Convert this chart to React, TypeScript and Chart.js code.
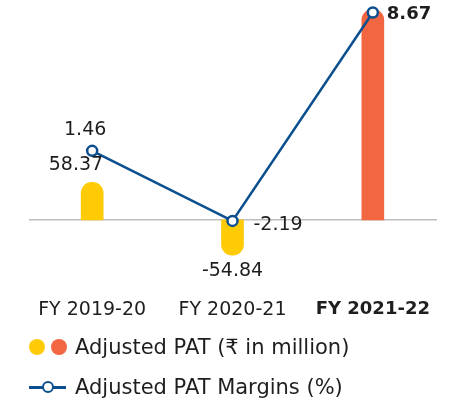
import React, { useEffect, useRef } from "react";
import { Chart, registerables } from "chart.js";

Chart.register(...registerables);

const categories = ["FY 2019-20", "FY 2020-21", "FY 2021-22"];
const patValues = [58.37, -54.84, 327];
const patLabels = ["58.37", "-54.84", ""];
const marginValues = [1.46, -2.19, 8.67];
const marginLabels = ["1.46", "-2.19", "8.67"];
const barColors = ["#FFCB05", "#FFCB05", "#F26742"];
const lineColor = "#0B4F8F";
const FONT = "'DejaVu Sans', 'Noto Sans', sans-serif";

const labelPlugin = {
  id: "customLabels",
  beforeDatasetsDraw(chart: any) {
    const { ctx, chartArea, scales } = chart;
    const y0 = scales.y.getPixelForValue(0);
    ctx.save();
    ctx.strokeStyle = "#BDBDBD";
    ctx.lineWidth = 1.5;
    ctx.beginPath();
    ctx.moveTo(chartArea.left + 7, y0);
    ctx.lineTo(chartArea.right - 6, y0);
    ctx.stroke();
    ctx.restore();
  },
  afterDatasetsDraw(chart: any) {
    const { ctx } = chart;
    const barMeta = chart.getDatasetMeta(0);
    const lineMeta = chart.getDatasetMeta(1);
    ctx.save();
    ctx.fillStyle = "#1E1E1E";
    ctx.textBaseline = "middle";
    barMeta.data.forEach((el: any, i: number) => {
      const txt = patLabels[i];
      if (!txt) return;
      ctx.font = `19px ${FONT}`;
      if (patValues[i] >= 0) {
        ctx.textAlign = "right";
        ctx.fillText(txt, el.x + 11, el.y - 17);
      } else {
        ctx.textAlign = "center";
        ctx.fillText(txt, el.x, el.y + 16);
      }
    });
    lineMeta.data.forEach((el: any, i: number) => {
      const txt = marginLabels[i];
      if (i === 0) {
        ctx.font = `19px ${FONT}`;
        ctx.textAlign = "center";
        ctx.fillText(txt, el.x - 7, el.y - 21);
      } else if (i === 1) {
        ctx.font = `19px ${FONT}`;
        ctx.textAlign = "left";
        ctx.fillText(txt, el.x + 21, el.y + 4);
      } else {
        ctx.font = `bold 18px ${FONT}`;
        ctx.textAlign = "left";
        ctx.fillText(txt, el.x + 14, el.y + 2);
      }
    });
    ctx.restore();
  },
};

export default function App() {
  const ref = useRef<HTMLCanvasElement | null>(null);
  useEffect(() => {
    if (!ref.current) return;
    const chart = new Chart(ref.current, {
      type: "bar",
      data: {
        labels: categories,
        datasets: [
          {
            type: "bar",
            data: patValues,
            backgroundColor: barColors,
            barThickness: 22,
            borderRadius: 11,
            borderSkipped: "start",
            yAxisID: "y",
            order: 2,
          },
          {
            type: "line",
            data: marginValues,
            borderColor: lineColor,
            borderWidth: 2.5,
            pointRadius: 5,
            pointBorderWidth: 2.5,
            pointBackgroundColor: "#FFFFFF",
            pointBorderColor: lineColor,
            tension: 0,
            clip: false,
            yAxisID: "y1",
            order: 1,
          } as any,
        ],
      },
      options: {
        animation: false,
        responsive: false,
        maintainAspectRatio: false,
        layout: { padding: { left: 22, right: 21, top: 4, bottom: 65 } },
        plugins: { legend: { display: false }, tooltip: { enabled: false } },
        scales: {
          x: {
            grid: { display: false, drawTicks: false },
            border: { display: false },
            ticks: {
              padding: 14,
              color: "#1E1E1E",
              font: (c: any) =>
                c.index === 2
                  ? { family: FONT, size: 18, weight: "bold" }
                  : { family: FONT, size: 19 },
            },
          },
          y: {
            display: false,
            min: -100,
            max: 330,
          },
          y1: {
            display: false,
            min: -5.49,
            max: 8.93,
          },
        },
      },
      plugins: [labelPlugin],
    });
    return () => chart.destroy();
  }, []);

  const textStyle: React.CSSProperties = {
    position: "absolute",
    left: 75,
    fontFamily: FONT,
    fontSize: 21,
    color: "#1E1E1E",
    lineHeight: "24px",
    whiteSpace: "nowrap",
  };
  const dot = (left: number, color: string): React.CSSProperties => ({
    position: "absolute",
    left,
    top: 339,
    width: 16,
    height: 16,
    borderRadius: 8,
    background: color,
  });

  return (
    <div style={{ position: "fixed", left: 0, top: 0, width: 464, height: 400, background: "#fff" }}>
      <canvas ref={ref} width={464} height={400} style={{ position: "absolute", left: 0, top: 0 }} />
      <span style={dot(29, "#FFCB05")} />
      <span style={dot(51, "#F26742")} />
      <div style={{ ...textStyle, top: 335 }}>Adjusted PAT (₹ in million)</div>
      <span
        style={{
          position: "absolute",
          left: 29,
          top: 386,
          width: 37,
          height: 2.5,
          background: lineColor,
        }}
      />
      <span
        style={{
          position: "absolute",
          left: 42,
          top: 381,
          width: 8,
          height: 8,
          borderRadius: 7,
          border: `2.5px solid ${lineColor}`,
          background: "#fff",
        }}
      />
      <div style={{ ...textStyle, top: 375 }}>Adjusted PAT Margins (%)</div>
    </div>
  );
}
